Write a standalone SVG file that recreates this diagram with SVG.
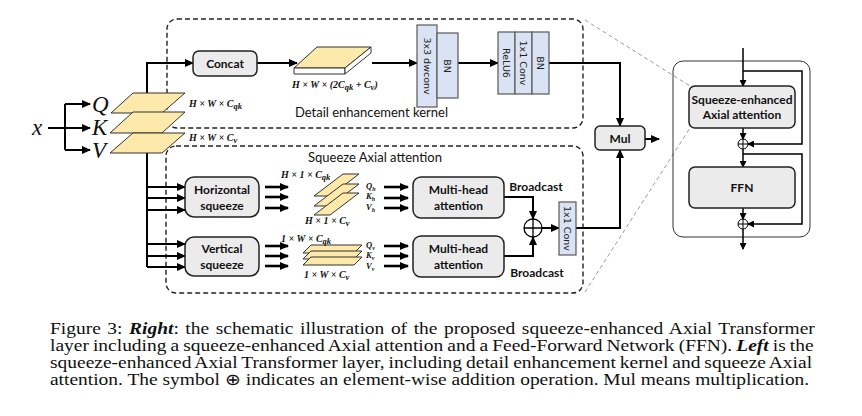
<svg xmlns="http://www.w3.org/2000/svg" width="862" height="416" viewBox="0 0 862 416">
<defs>
<style>
.dash{fill:none;stroke:#222;stroke-width:1.4;stroke-dasharray:5,3}
.gdash{fill:none;stroke:#9a9a9a;stroke-width:1;stroke-dasharray:4,3}
.box{fill:#ebebeb;stroke:#222;stroke-width:1.5}
.blue{fill:#dae3f3;stroke:#595959;stroke-width:1.2}
.slab{fill:#fde9a9;stroke:#333;stroke-width:1}
.white{fill:#fff;stroke:#333;stroke-width:1}
.ln{fill:none;stroke:#000;stroke-width:2}
.ln3{fill:none;stroke:#000;stroke-width:2.6}
.thin{fill:none;stroke:#000;stroke-width:1.5}
.lbl{font-family:Lato,'Liberation Sans',sans-serif;font-weight:bold;font-size:12px;fill:#111;text-anchor:middle}
.ttl{font-family:Lato,'Liberation Sans',sans-serif;font-size:13px;fill:#111}
.vt{font-family:'DejaVu Sans',sans-serif;font-size:9.5px;fill:#222;text-anchor:middle;dominant-baseline:central}
.m{font-family:'Liberation Serif','Times New Roman',serif;font-style:italic;font-weight:bold;font-size:10px;fill:#111}
.ms{font-family:'Liberation Serif','Times New Roman',serif;font-style:italic;font-weight:bold;font-size:8.5px;fill:#111}
.big{font-family:'Liberation Serif','Times New Roman',serif;font-style:italic;font-size:23px;fill:#111}
.cap{font-family:'Liberation Serif','Times New Roman',serif;font-size:16.5px;fill:#111}
</style>
<marker id="ah" markerUnits="userSpaceOnUse" markerWidth="9" markerHeight="8" refX="8" refY="4" orient="auto"><path d="M0,0 L9,4 L0,8 z" fill="#000"/></marker>
<marker id="as" markerUnits="userSpaceOnUse" markerWidth="7" markerHeight="7" refX="6" refY="3.5" orient="auto"><path d="M0,0 L7,3.5 L0,7 z" fill="#000"/></marker>
</defs>
<rect width="862" height="416" fill="#fff"/>

<g id="containers">
<rect class="dash" x="167" y="19" width="416" height="109" rx="10"/>
<rect class="dash" x="166" y="146" width="417" height="147" rx="10"/>
<path class="gdash" d="M585,20 L690,86 M585,292 L690,128"/>
<rect x="673" y="61" width="137" height="176" rx="10" fill="none" stroke="#333" stroke-width="1"/>
<text class="ttl" x="295" y="117">Detail enhancement kernel</text>
<text class="ttl" x="308" y="162">Squeeze Axial attention</text>
</g>

<g id="connectors">
<path class="ln" d="M48,128 L90,128" marker-end="url(#ah)"/>
<path class="ln" d="M65,104 L65,150"/>
<path class="ln" d="M65,104 L90,104" marker-end="url(#ah)"/>
<path class="ln" d="M65,150 L90,150" marker-end="url(#ah)"/>
<path class="ln" d="M147,267 L147,63 L193,63" marker-end="url(#ah)"/>
<path class="ln" d="M147,187 L185,187" marker-end="url(#ah)"/>
<path class="ln" d="M147,198 L185,198" marker-end="url(#ah)"/>
<path class="ln" d="M147,210 L185,210" marker-end="url(#ah)"/>
<path class="ln" d="M147,244 L185,244" marker-end="url(#ah)"/>
<path class="ln" d="M147,256 L185,256" marker-end="url(#ah)"/>
<path class="ln" d="M147,267 L185,267" marker-end="url(#ah)"/>
<path class="ln" d="M257,63 L297,63" marker-end="url(#ah)"/>
<path class="ln" d="M372,63 L417,63" marker-end="url(#ah)"/>
<path class="ln" d="M458,63 L498,63" marker-end="url(#ah)"/>
<path class="ln" d="M549,63 L620,63 L620,126" marker-end="url(#ah)"/>
<path class="ln" d="M576,228 L620,228 L620,150" marker-end="url(#ah)"/>
<path class="ln" d="M645,139 L659,139" marker-end="url(#ah)"/>
<path class="ln3" d="M265,187 L288,187" marker-end="url(#ah)"/>
<path class="ln3" d="M265,197 L288,197" marker-end="url(#ah)"/>
<path class="ln3" d="M265,208 L288,208" marker-end="url(#ah)"/>
<path class="ln3" d="M265,246 L288,246" marker-end="url(#ah)"/>
<path class="ln3" d="M265,256 L288,256" marker-end="url(#ah)"/>
<path class="ln3" d="M265,266 L288,266" marker-end="url(#ah)"/>
<path class="ln3" d="M384,187 L408,187" marker-end="url(#ah)"/>
<path class="ln3" d="M384,198 L408,198" marker-end="url(#ah)"/>
<path class="ln3" d="M384,208 L408,208" marker-end="url(#ah)"/>
<path class="ln3" d="M384,246 L408,246" marker-end="url(#ah)"/>
<path class="ln3" d="M384,256 L408,256" marker-end="url(#ah)"/>
<path class="ln3" d="M384,266 L408,266" marker-end="url(#ah)"/>
<path class="ln" d="M504,197 L533,197 L533,219" marker-end="url(#ah)"/>
<path class="ln" d="M504,256 L533,256 L533,237" marker-end="url(#ah)"/>
<path class="ln" d="M542,228 L559,228" marker-end="url(#ah)"/>
<path class="thin" d="M743,48 L743,86" marker-end="url(#as)"/>
<path class="thin" d="M743,71 L802,71 L802,144 L748,144" marker-end="url(#as)"/>
<path class="thin" d="M743,128 L743,139" marker-end="url(#as)"/>
<path class="thin" d="M743,149 L743,167" marker-end="url(#as)"/>
<path class="thin" d="M743,154 L802,154 L802,224 L748,224" marker-end="url(#as)"/>
<path class="thin" d="M743,208 L743,219" marker-end="url(#as)"/>
<path class="thin" d="M743,229 L743,249" marker-end="url(#as)"/>
<text class="lbl" x="536" y="191">Broadcast</text>
<text class="lbl" x="537" y="277">Broadcast</text>
</g>

<g id="input">
<text class="big" x="32" y="135">x</text>
<text class="big" x="92" y="112">Q</text>
<text class="big" x="92" y="135">K</text>
<text class="big" x="92" y="158">V</text>
</g>

<g id="qkv-slabs">
<polygon class="slab" points="111,113 133,93 185,93 162,113"/>
<polygon class="slab" points="110,133 133,112 185,112 162,133"/>
<polygon class="slab" points="110,153 133,133 185,133 162,153"/>
<text class="m" x="189" y="107">H × W × C<tspan class="ms" dy="2">qk</tspan></text>
<text class="m" x="189" y="141">H × W × C<tspan class="ms" dy="2">v</tspan></text>
</g>

<g id="concat">
<rect class="box" x="193" y="51" width="64" height="25" rx="6"/>
<text class="lbl" x="225" y="68">Concat</text>
</g>

<g id="concat-tensor">
<polygon class="slab" points="294,68 317,47 371,47 345,68"/>
<polygon class="white" points="294,68 345,68 345,74 294,74"/>
<polygon class="white" points="345,68 371,47 371,53 345,74"/>
<text class="m" x="292" y="88">H × W × (2C<tspan class="ms" dy="2">qk</tspan><tspan dy="-2"> + C</tspan><tspan class="ms" dy="2">v</tspan><tspan dy="-2">)</tspan></text>
</g>

<g id="dwconv-bn">
<rect class="blue" x="417" y="25" width="20" height="82"/>
<rect class="blue" x="437" y="33" width="21" height="65"/>
<text class="vt" transform="rotate(90 427 66)" x="427" y="66">3x3 dwconv</text>
<text class="vt" transform="rotate(90 447.5 66)" x="447.5" y="66">BN</text>
</g>

<g id="relu-conv-bn">
<rect class="blue" x="498" y="32" width="17" height="62"/>
<rect class="blue" x="515" y="32" width="17" height="62"/>
<rect class="blue" x="532" y="32" width="17" height="62"/>
<text class="vt" transform="rotate(90 506.5 63)" x="506.5" y="63">ReLU6</text>
<text class="vt" transform="rotate(90 523.5 63)" x="523.5" y="63">1x1 Conv</text>
<text class="vt" transform="rotate(90 540.5 63)" x="540.5" y="63">BN</text>
</g>

<g id="mul">
<rect class="box" x="595" y="126" width="50" height="24" rx="5"/>
<text class="lbl" x="620" y="143">Mul</text>
</g>

<g id="horizontal-squeeze">
<rect class="box" x="185" y="177" width="74" height="40" rx="9"/>
<text class="lbl" x="222" y="194">Horizontal</text>
<text class="lbl" x="222" y="210">squeeze</text>
</g>

<g id="vertical-squeeze">
<rect class="box" x="185" y="237" width="74" height="39" rx="9"/>
<text class="lbl" x="222" y="253">Vertical</text>
<text class="lbl" x="222" y="269">squeeze</text>
</g>

<g id="h-slabs">
<polygon class="slab" points="343,174 359,174 330,196 314,196"/>
<polygon class="slab" points="343,184 359,184 330,206 314,206"/>
<polygon class="slab" points="343,193 359,193 330,215 314,215"/>
<text class="m" x="281" y="178">H × 1 × C<tspan class="ms" dy="2">qk</tspan></text>
<text class="m" x="305" y="224">H × 1 × C<tspan class="ms" dy="2">v</tspan></text>
<text class="ms" x="366" y="189">Q<tspan font-size="6" dy="1.5">h</tspan></text>
<text class="ms" x="366" y="199">K<tspan font-size="6" dy="1.5">h</tspan></text>
<text class="ms" x="366" y="210">V<tspan font-size="6" dy="1.5">h</tspan></text>
</g>

<g id="v-slabs">
<polygon class="slab" points="311,245 362,245 354,253 303,253"/>
<polygon class="slab" points="311,251 362,251 354,259 303,259"/>
<polygon class="slab" points="311,257 362,257 354,265 303,265"/>
<text class="m" x="281" y="242">1 × W × C<tspan class="ms" dy="2">qk</tspan></text>
<text class="m" x="304" y="278">1 × W × C<tspan class="ms" dy="2">v</tspan></text>
<text class="ms" x="366" y="248">Q<tspan font-size="6" dy="1.5">v</tspan></text>
<text class="ms" x="366" y="258">K<tspan font-size="6" dy="1.5">v</tspan></text>
<text class="ms" x="366" y="269">V<tspan font-size="6" dy="1.5">v</tspan></text>
</g>

<g id="mha-h">
<rect class="box" x="413" y="177" width="91" height="41" rx="8"/>
<text class="lbl" x="458.5" y="194">Multi-head</text>
<text class="lbl" x="458.5" y="210">attention</text>
</g>

<g id="mha-v">
<rect class="box" x="413" y="236" width="91" height="41" rx="8"/>
<text class="lbl" x="458.5" y="253">Multi-head</text>
<text class="lbl" x="458.5" y="269">attention</text>
</g>

<g id="add">
<circle cx="533" cy="228" r="9" fill="#fff" stroke="#000" stroke-width="1.3"/>
<path d="M524,228 H542 M533,219 V237" stroke="#000" stroke-width="1.3"/>
</g>

<g id="conv1x1">
<rect class="blue" x="559" y="202" width="17" height="53"/>
<text class="vt" transform="rotate(90 567.5 228.5)" x="567.5" y="228.5">1x1 Conv</text>
</g>

<g id="seaa">
<rect class="box" x="689" y="86" width="106" height="42" rx="6" stroke-width="1.2"/>
<text class="lbl" x="742" y="104">Squeeze-enhanced</text>
<text class="lbl" x="742" y="119">Axial attention</text>
</g>

<g id="add1">
<circle cx="743" cy="144" r="5" fill="#fff" stroke="#000" stroke-width="1"/>
<path d="M738,144 H748 M743,139 V149" stroke="#000" stroke-width="1"/>
</g>

<g id="ffn">
<rect class="box" x="689" y="167" width="106" height="41" rx="6" stroke-width="1.2"/>
<text class="lbl" x="742" y="192" font-size="13">FFN</text>
</g>

<g id="add2">
<circle cx="743" cy="224" r="5" fill="#fff" stroke="#000" stroke-width="1"/>
<path d="M738,224 H748 M743,219 V229" stroke="#000" stroke-width="1"/>
</g>

<g id="caption" transform="matrix(1.18,0,0,1,-9,0)">
<text class="cap" x="50" y="334" word-spacing="1.44">Figure 3: <tspan font-weight="bold" font-style="italic">Right</tspan>: the schematic illustration of the proposed squeeze-enhanced Axial Transformer</text>
<text class="cap" x="50" y="351" word-spacing="-0.65">layer including a squeeze-enhanced Axial attention and a Feed-Forward Network (FFN). <tspan font-weight="bold" font-style="italic">Left</tspan> is the</text>
<text class="cap" x="50" y="368" word-spacing="-0.77">squeeze-enhanced Axial Transformer layer, including detail enhancement kernel and squeeze Axial</text>
<text class="cap" x="50" y="385">attention. The symbol ⊕ indicates an element-wise addition operation. Mul means multiplication.</text>
</g>
</svg>
